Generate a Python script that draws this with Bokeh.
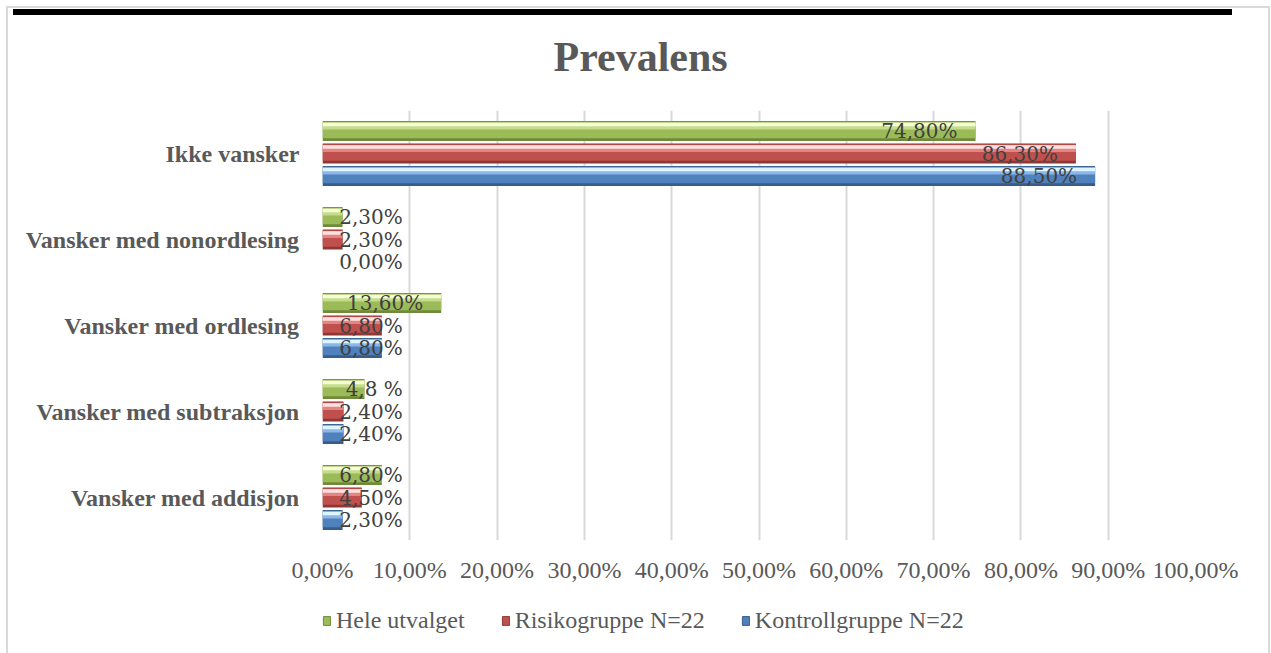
import numpy as np
from bokeh.plotting import figure
from bokeh.layouts import column
from bokeh.models import (ColumnDataSource, FactorRange, Range1d, FixedTicker, Legend, LegendItem)
from bokeh.transform import dodge
from bokeh.core.properties import value
from bokeh.embed import file_html
from bokeh.resources import INLINE

# ---- data ----
categories = ["Ikke vansker", "Vansker med nonordlesing", "Vansker med ordlesing",
              "Vansker med subtraksjon", "Vansker med addisjon"]
hele = [74.8, 2.3, 13.6, 4.8, 6.8]
risiko = [86.3, 2.3, 6.8, 2.4, 4.5]
kontroll = [88.5, 0.0, 6.8, 2.4, 2.3]
hele_labels = ["74,80%", "2,30%", "13,60%", "4,8 %", "6,80%"]
risiko_labels = ["86,30%", "2,30%", "6,80%", "2,40%", "4,50%"]
kontroll_labels = ["88,50%", "0,00%", "6,80%", "2,40%", "2,30%"]
series_names = ["Hele utvalget", "Risikogruppe N=22", "Kontrollgruppe N=22"]
tick_values = [0, 10, 20, 30, 40, 50, 60, 70, 80, 90, 100]
tick_labels = ["0,00%", "10,00%", "20,00%", "30,00%", "40,00%", "50,00%",
               "60,00%", "70,00%", "80,00%", "90,00%", "100,00%"]
title_text = "Prevalens"

W, H = 1271, 653
H_MAIN = 595
H_LEG = H - H_MAIN
serif = "Liberation Serif"

p = figure(width=W, height=H_MAIN, y_range=FactorRange(*categories[::-1]),
           x_range=Range1d(0, 100), output_backend="svg", toolbar_location=None,
           min_border_left=322, min_border_right=W - 1195,
           min_border_top=110, min_border_bottom=H_MAIN - 540)
p.outline_line_color = None
p.background_fill_color = None
p.border_fill_color = None

# title
p.title.text = title_text
p.title.align = "left"
p.title.offset = 231
p.title.standoff = 62
p.title.text_font = serif
p.title.text_font_size = "42px"
p.title.text_font_style = "bold"
p.title.text_color = "#595959"

# axes
p.xaxis.ticker = FixedTicker(ticks=tick_values)
p.xaxis.major_label_overrides = {v: s for v, s in zip(tick_values, tick_labels)}
p.xaxis.axis_line_color = None
p.xaxis.major_tick_line_color = None
p.xaxis.minor_tick_line_color = None
p.xaxis.major_label_standoff = 10
p.xaxis.major_label_text_font = serif
p.xaxis.major_label_text_font_size = "24px"
p.xaxis.major_label_text_color = "#595959"

p.yaxis.axis_line_color = None
p.yaxis.major_tick_line_color = None
p.yaxis.major_label_standoff = 17
p.yaxis.major_label_text_font = serif
p.yaxis.major_label_text_font_size = "24px"
p.yaxis.major_label_text_font_style = "bold"
p.yaxis.major_label_text_color = "#595959"

p.ygrid.grid_line_color = None
p.xgrid.grid_line_color = "#d9d9d9"
p.xgrid.grid_line_width = 2

src = ColumnDataSource(dict(cat=categories, hele=hele, risiko=risiko, kontroll=kontroll,
                            hele_lbl=hele_labels, risiko_lbl=risiko_labels,
                            kontroll_lbl=kontroll_labels))

bar_h = 0.233
offsets = [0.262, 0.0, -0.262]
keys = ["hele", "risiko", "kontroll"]
main_cols = ["#9bbb59", "#c0504d", "#4f81bd"]
dark_cols = ["#6f8a3a", "#8c3836", "#385d8a"]
light_cols = ["#f6ffd8", "#ffe0e0", "#ddf5ff"]
mid_cols = ["#c4dc8c", "#e38683", "#8cb6e8"]

for key, off, mc, dc, lc, mdc in zip(keys, offsets, main_cols, dark_cols, light_cols, mid_cols):
    p.hbar(y=dodge("cat", off, range=p.y_range), right=key, left=0, height=bar_h,
           source=src, fill_color=dc, line_color=None)
    p.hbar(y=dodge("cat", off + 0.012, range=p.y_range), right=key, left=0,
           height=bar_h - 0.04, source=src, fill_color=mc, line_color=None)
    p.hbar(y=dodge("cat", off + 0.058, range=p.y_range), right=key, left=0,
           height=0.08, source=src, fill_color=mdc, line_color=None)
    p.hbar(y=dodge("cat", off + 0.075, range=p.y_range), right=key, left=0,
           height=0.04, source=src, fill_color=lc, line_color=None)

# data labels (inside end, with a minimum position)
for key, off in zip(keys, offsets):
    vals = np.array(src.data[key], dtype=float)
    src.data[key + "_lx"] = list(np.maximum(vals - 2.06, 9.2))
    p.text(x=key + "_lx", y=dodge("cat", off, range=p.y_range), text=key + "_lbl", source=src,
           text_align="right", text_baseline="middle", text_font=value("DejaVu Serif"),
           text_font_size="20px", text_color="#404040")

# ---- legend strip below the chart (its frame is aligned with the main frame) ----
leg = figure(width=W, height=H_LEG, x_range=Range1d(0, 100), y_range=Range1d(0, 1),
             output_backend="svg", toolbar_location=None, min_border=0)
leg.axis.visible = False
leg.grid.visible = False
leg.outline_line_color = None
leg.background_fill_color = None
leg.border_fill_color = None

legend_items = []
for mc, dc, name in zip(main_cols, dark_cols, series_names):
    # proxy glyphs for the legend only (NaN coordinates -> nothing drawn in the strip)
    r = leg.quad(left=[np.nan], right=[np.nan], top=[np.nan], bottom=[np.nan],
                 fill_color=mc, line_color=dc, line_width=1)
    legend_items.append(LegendItem(label=name, renderers=[r]))

legend = Legend(items=legend_items, orientation="horizontal", location=(0, 19),
                label_text_font=serif, label_text_font_size="24px", label_text_color="#595959",
                glyph_width=9, glyph_height=11, label_standoff=5, spacing=36,
                padding=0, margin=0, border_line_color=None, background_fill_alpha=0)
leg.add_layout(legend, "center")

layout = column(p, leg, spacing=0)
# decorative frame (grey border lines and black top band) painted behind the transparent canvases
layout.styles = {
    "background": ("linear-gradient(#000000,#000000) 13px 9px / 1219px 6px no-repeat, "
                   "linear-gradient(#d9d9d9,#d9d9d9) 6px 6px / 2px 647px no-repeat, "
                   "linear-gradient(#d9d9d9,#d9d9d9) 1268px 6px / 2px 647px no-repeat, "
                   "linear-gradient(#d9d9d9,#d9d9d9) 6px 6px / 1264px 2px no-repeat, "
                   "#ffffff"),
}

open("out.html", "w").write(file_html(layout, INLINE))
